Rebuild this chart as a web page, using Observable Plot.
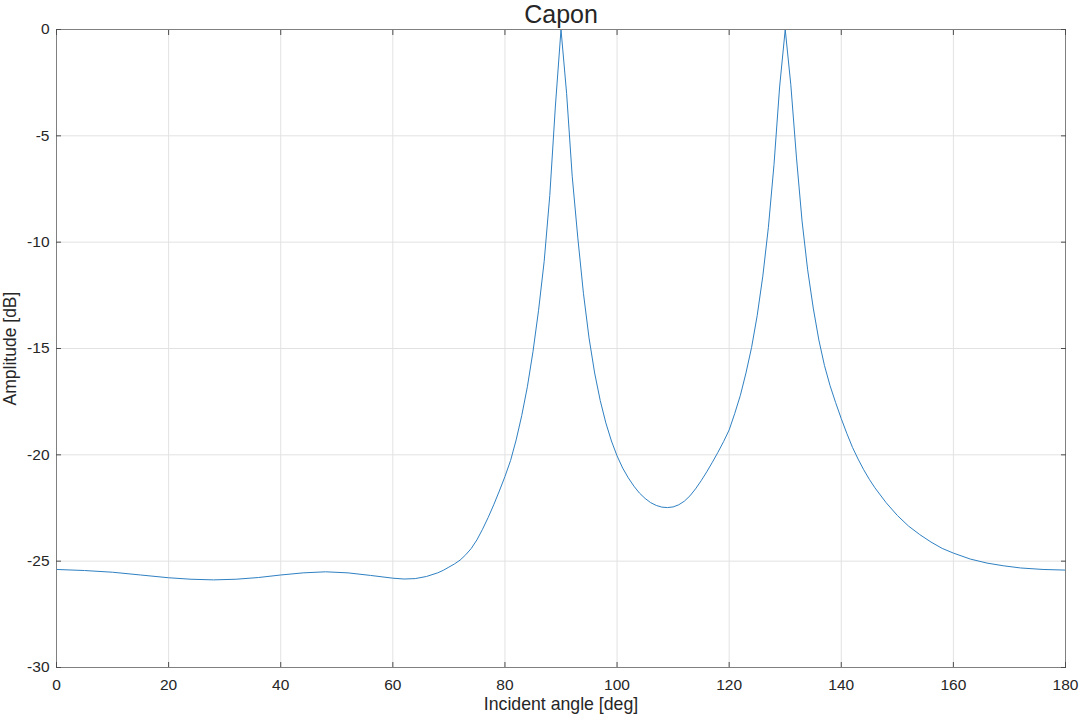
<!DOCTYPE html>
<html>
<head>
<meta charset="utf-8">
<script src="https://cdn.jsdelivr.net/npm/d3@7"></script>
<script src="https://cdn.jsdelivr.net/npm/@observablehq/plot@0.6"></script>
<style>
  html, body { margin: 0; padding: 0; background: #ffffff; }
  #chart { width: 1080px; height: 716px; }
</style>
</head>
<body>
<div id="chart"></div>
<script>
const titleText = "Capon";
const xLabel = "Incident angle [deg]";
const yLabel = "Amplitude [dB]";
const xTicks = [0, 20, 40, 60, 80, 100, 120, 140, 160, 180];
const yTicks = [-30, -25, -20, -15, -10, -5, 0];

const angles = [0,5,10,15,20,24,28,32,36,40,44,48,52,56,60,62,64,66,68,69,70,71,72,73,74,75,76,77,78,79,80,81,82,83,84,85,86,87,88,89,90,91,92,93,94,95,96,97,98,99,100,101,102,103,104,105,106,107,108,109,110,111,112,113,114,115,116,117,118,119,120,121,122,123,124,125,126,127,128,129,130,131,132,133,134,135,136,137,138,139,140,141,142,143,144,145,146,148,150,152,154,156,158,160,163,166,169,172,176,180];
const amplitudes = [-25.39,-25.44,-25.52,-25.65,-25.78,-25.85,-25.88,-25.85,-25.77,-25.65,-25.55,-25.50,-25.55,-25.67,-25.80,-25.84,-25.82,-25.72,-25.55,-25.43,-25.28,-25.13,-24.95,-24.7,-24.4,-24.0,-23.5,-22.95,-22.35,-21.7,-21.02,-20.27,-19.3,-18.15,-16.8,-15.15,-13.2,-10.9,-7.8,-3.6,0,-3.0,-6.9,-9.8,-12.4,-14.5,-16.15,-17.45,-18.5,-19.35,-20.05,-20.62,-21.08,-21.47,-21.8,-22.05,-22.25,-22.38,-22.46,-22.48,-22.45,-22.35,-22.18,-21.93,-21.6,-21.22,-20.8,-20.35,-19.88,-19.38,-18.83,-18.05,-17.2,-16.15,-14.95,-13.45,-11.6,-9.3,-6.35,-2.7,0,-2.6,-6.0,-9.0,-11.3,-13.1,-14.6,-15.8,-16.75,-17.55,-18.3,-19.0,-19.65,-20.2,-20.7,-21.15,-21.55,-22.25,-22.85,-23.35,-23.75,-24.1,-24.4,-24.62,-24.9,-25.09,-25.22,-25.32,-25.39,-25.42];

const data = angles.map((a, i) => ({angle: a, db: amplitudes[i]}));
const fmt = d => String(d);
const font = "'Liberation Sans', Arial, Helvetica, sans-serif";

const chart = Plot.plot({
  width: 1080,
  height: 716,
  marginLeft: 56,
  marginRight: 15,
  marginTop: 29,
  marginBottom: 49,
  style: {fontFamily: font, fontSize: "15.5px", color: "#262626", background: "#ffffff", overflow: "visible"},
  x: {domain: [0, 180]},
  y: {domain: [-30, 0]},
  marks: [
    Plot.gridX(xTicks, {stroke: "#e2e2e2", strokeOpacity: 1, strokeWidth: 1}),
    Plot.gridY(yTicks, {stroke: "#e2e2e2", strokeOpacity: 1, strokeWidth: 1}),
    Plot.line(data, {x: "angle", y: "db", stroke: "#2f80c2", strokeWidth: 1}),
    Plot.frame({stroke: "#808080", strokeWidth: 1}),
    Plot.axisX(xTicks, {anchor: "bottom", tickSize: -5, tickPadding: 16, tickFormat: fmt, label: null, stroke: "#4d4d4d", fill: "#262626", fontSize: 15.5}),
    Plot.axisX(xTicks, {anchor: "top", tickSize: -5, tickFormat: () => "", label: null, stroke: "#4d4d4d"}),
    Plot.axisY(yTicks, {anchor: "left", tickSize: -5, tickPadding: 12, tickFormat: fmt, label: null, stroke: "#4d4d4d", fill: "#262626", fontSize: 15.5}),
    Plot.axisY(yTicks, {anchor: "right", tickSize: -5, tickFormat: () => "", label: null, stroke: "#4d4d4d"}),
    Plot.text([titleText], {frameAnchor: "top", lineAnchor: "middle", textAnchor: "middle", dy: -15, fontSize: 25, fill: "#262626"}),
    Plot.text([xLabel], {frameAnchor: "bottom", lineAnchor: "middle", textAnchor: "middle", dy: 37, fontSize: 17.7, fill: "#262626"}),
    Plot.text([yLabel], {frameAnchor: "left", lineAnchor: "middle", textAnchor: "middle", dx: -46, rotate: -90, fontSize: 17.5, fill: "#262626"})
  ]
});
document.getElementById("chart").appendChild(chart);
</script>
</body>
</html>
